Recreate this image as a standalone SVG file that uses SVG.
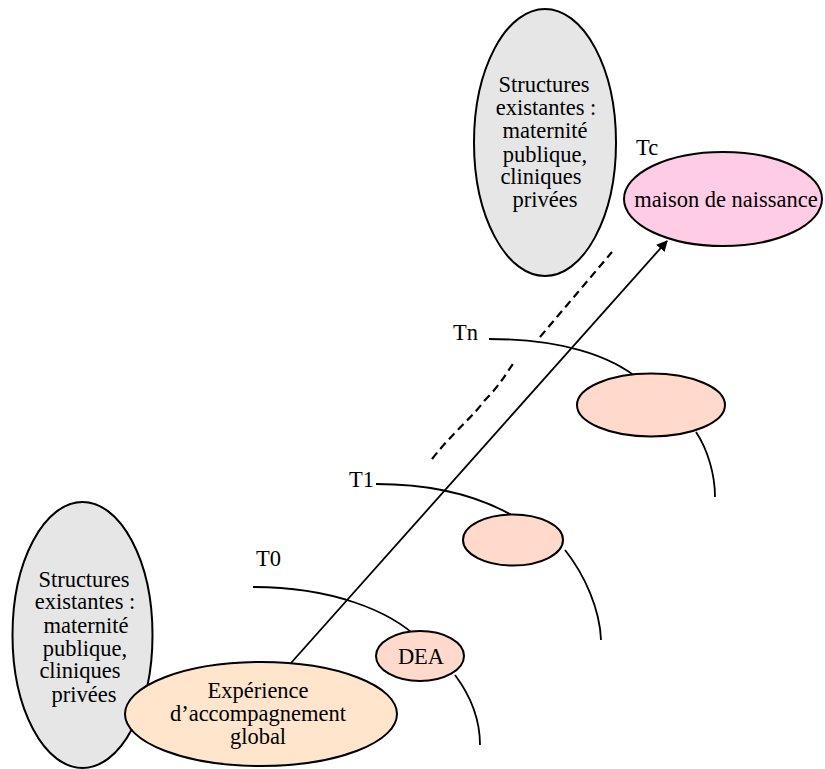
<svg xmlns="http://www.w3.org/2000/svg" width="825" height="769" viewBox="0 0 825 769">
  <style>
    .node { stroke: #000; stroke-width: 2; }
    .gray { fill: #e6e6e6; }
    .pink { fill: #ffcce6; }
    .salmon { fill: #ffdacc; }
    .peach { fill: #ffe5cc; }
    text { font-family: "Liberation Serif", "Times New Roman", serif; font-size: 22.5px; fill: #000; }
    .c { text-anchor: middle; }
    .link { fill: none; stroke: #000; stroke-width: 1.8; }
    .dash { fill: none; stroke: #000; stroke-width: 2.2; stroke-dasharray: 8 5; }
  </style>
  <defs>
    <marker id="arrow" viewBox="0 0 10 10" refX="9" refY="5" markerWidth="11" markerHeight="11" markerUnits="userSpaceOnUse" orient="auto">
      <path d="M0,0 L10,5 L0,10 z" fill="#000"/>
    </marker>
  </defs>

  <!-- time arcs and the progression arrow -->
  <g id="connectors">
    <path class="link" d="M253,587 C330,587 390,610 420,640"/>
    <path class="link" d="M455,675 C470,695 480,720 480,745"/>
    <path class="link" d="M376,484 C430,484 480,495 520,520"/>
    <path class="link" d="M565,550 C585,575 600,610 601,640"/>
    <path class="link" d="M489,339 C560,339 610,355 640,380"/>
    <path class="link" d="M696,432 C708,450 715,475 715,497"/>
    <path class="dash" d="M432,459 C455,430 470,420 485,400 C500,385 505,375 515,361"/>
    <path class="dash" d="M540,337 L612,252"/>
    <line class="link" x1="291" y1="663" x2="667" y2="241" marker-end="url(#arrow)"/>
  </g>

  <g id="structures-top">
    <ellipse class="node gray" cx="545" cy="142.5" rx="71" ry="133.5"/>
    <text class="c" x="544" y="92">Structures</text>
    <text class="c" x="546" y="115">existantes :</text>
    <text class="c" x="545" y="138">maternité</text>
    <text class="c" x="545" y="162">publique,</text>
    <text class="c" x="541" y="184">cliniques</text>
    <text class="c" x="545" y="207">privées</text>
  </g>

  <g id="tc">
    <text x="636" y="155">Tc</text>
  </g>

  <g id="maison">
    <ellipse class="node pink" cx="723" cy="199" rx="99" ry="47"/>
    <text class="c" x="726" y="207">maison de naissance</text>
  </g>

  <g id="tn">
    <text x="453" y="340">Tn</text>
    <ellipse class="node salmon" cx="651" cy="405" rx="74" ry="31.5"/>
  </g>

  <g id="t1">
    <text x="349" y="487">T1</text>
    <ellipse class="node salmon" cx="513" cy="540" rx="50" ry="25.5"/>
  </g>

  <g id="t0">
    <text x="256" y="566">T0</text>
  </g>

  <g id="dea">
    <ellipse class="node salmon" cx="420" cy="656" rx="44" ry="25"/>
    <text class="c" x="421" y="664">DEA</text>
  </g>

  <g id="structures-bottom">
    <ellipse class="node gray" cx="82.5" cy="635" rx="70" ry="133"/>
    <text class="c" x="84" y="587">Structures</text>
    <text class="c" x="85" y="609">existantes :</text>
    <text class="c" x="86" y="633">maternité</text>
    <text class="c" x="85" y="656">publique,</text>
    <text class="c" x="80" y="678">cliniques</text>
    <text class="c" x="84" y="702">privées</text>
  </g>

  <g id="experience">
    <ellipse class="node peach" cx="261" cy="714" rx="136" ry="52"/>
    <text class="c" x="258" y="698">Expérience</text>
    <text class="c" x="258" y="721">d’accompagnement</text>
    <text class="c" x="258" y="744">global</text>
  </g>
</svg>
